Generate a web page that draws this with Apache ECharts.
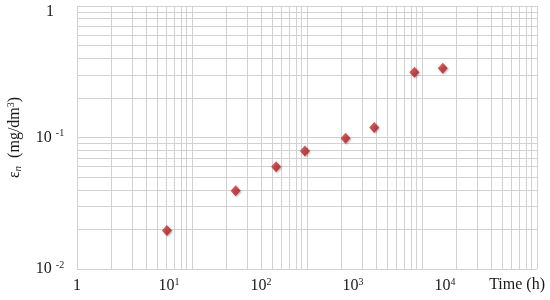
<!DOCTYPE html>
<html><head><meta charset="utf-8">
<script src="https://cdn.jsdelivr.net/npm/echarts@6/dist/echarts.min.js"></script>
<style>html,body{margin:0;padding:0;background:#fff}#c{width:550px;height:300px}</style>
</head><body><div id="c"></div>
<script>
// data
const timeHours = [9.5, 53, 146, 300, 830, 1700, 4650, 9450];
const epsilonN = [0.0196, 0.0394, 0.060, 0.079, 0.0986, 0.119, 0.313, 0.336];
const xTickValues = [1, 10, 100, 1000, 10000];
const yTickValues = [0.01, 0.1, 1];
const minorMultipliers = [2, 3, 4, 5, 6, 7, 8, 9];
const xGridDecades = [1, 10, 100, 1000];
const yGridDecades = [0.01, 0.1];

const FONT = 'Liberation Serif';
const GRID_COLOR = '#d2d2d2';
const TEXT_COLOR = '#1a1a1a';

const points = timeHours.map((t, i) => [t, epsilonN[i]]);
const minorLines = [];
xGridDecades.forEach(d => minorMultipliers.forEach(m => minorLines.push({ xAxis: d * m })));
yGridDecades.forEach(d => minorMultipliers.forEach(m => minorLines.push({ yAxis: +(d * m).toPrecision(3) })));

function expLabel(v) {
  const e = Math.round(Math.log10(v));
  if (e === 0) return '{a|1}';
  return '{a|10}{s|' + e + '}';
}
function yLabel(v) {
  const e = Math.round(Math.log10(v));
  if (e === 0) return '{one|1}';
  return '{a|10 }{s|' + e + '}';
}

const chart = echarts.init(document.getElementById('c'), null, { renderer: 'canvas' });
chart.setOption({
  animation: false,
  backgroundColor: '#fff',
  grid: { left: 77, right: 13, top: 6, bottom: 31, containLabel: false, outerBoundsMode: 'none' },
  xAxis: [
    {
      type: 'log', logBase: 10, min: 1, max: 10000, position: 'bottom',
      axisLine: { show: false }, axisTick: { show: false }, axisLabel: { show: false },
      splitLine: { show: true, lineStyle: { color: GRID_COLOR, width: 1 } }
    },
    {
      type: 'log', logBase: 10, min: 1, max: 100000, position: 'bottom',
      axisLine: { show: false }, axisTick: { show: false },
      splitLine: { show: false },
      axisLabel: {
        margin: 8, color: TEXT_COLOR, fontFamily: FONT,
        formatter: v => (v >= 100000 ? '' : expLabel(v)),
        rich: {
          a: { fontFamily: FONT, fontSize: 16, color: TEXT_COLOR, lineHeight: 18 },
          s: { fontFamily: FONT, fontSize: 10, color: TEXT_COLOR, lineHeight: 10, verticalAlign: 'top' },
          one: { fontFamily: FONT, fontSize: 16, color: TEXT_COLOR }
        }
      },
      name: 'Time (h)', nameLocation: 'end', nameGap: 8,
      nameTextStyle: { fontFamily: FONT, fontSize: 16, color: TEXT_COLOR, align: 'right', verticalAlign: 'top', padding: [8, 0, 0, 0] }
    }
  ],
  yAxis: {
    type: 'log', logBase: 10, min: 0.01, max: 1,
    axisLine: { show: false }, axisTick: { show: false },
    splitLine: { show: true, lineStyle: { color: GRID_COLOR, width: 1 } },
    axisLabel: {
      margin: 27, align: 'center', color: TEXT_COLOR, fontFamily: FONT,
      formatter: yLabel,
      rich: {
        a: { fontFamily: FONT, fontSize: 16, color: TEXT_COLOR, lineHeight: 18 },
        s: { fontFamily: FONT, fontSize: 10, color: TEXT_COLOR, lineHeight: 10, verticalAlign: 'top' },
        one: { fontFamily: FONT, fontSize: 16, color: TEXT_COLOR, padding: [12, 0, 0, 0] }
      }
    },
    name: '{e|ε}{n|n}{t|  (mg/dm}{s|3}{t|)}',
    nameLocation: 'middle', nameRotate: 90, nameGap: 53,
    nameTextStyle: {
      rich: {
        e: { fontFamily: FONT, fontSize: 16, color: TEXT_COLOR, lineHeight: 18 },
        n: { fontFamily: FONT, fontSize: 11, fontStyle: 'italic', color: TEXT_COLOR, lineHeight: 8, verticalAlign: 'bottom' },
        t: { fontFamily: FONT, fontSize: 16, color: TEXT_COLOR, lineHeight: 18 },
        s: { fontFamily: FONT, fontSize: 10, color: TEXT_COLOR, lineHeight: 9, verticalAlign: 'top' }
      }
    }
  },
  series: [
    {
      type: 'scatter', xAxisIndex: 0, yAxisIndex: 0, z: 1, silent: true,
      symbolSize: 0, data: [[1, 0.01]],
      markLine: {
        silent: true, symbol: ['none', 'none'], animation: false,
        label: { show: false },
        lineStyle: { color: GRID_COLOR, width: 1, type: 'solid' },
        emphasis: { disabled: true },
        data: minorLines
      }
    },
    {
      type: 'scatter', xAxisIndex: 1, yAxisIndex: 0, z: 5,
      symbol: 'diamond', symbolSize: [10, 11],
      itemStyle: {
        color: { type: 'linear', x: 0, y: 0, x2: 1, y2: 1,
          colorStops: [{ offset: 0, color: '#e0403e' }, { offset: 1, color: '#a31217' }] },
        shadowBlur: 2, shadowColor: 'rgba(0,0,0,0.35)', shadowOffsetX: 1, shadowOffsetY: 1
      },
      data: points
    }
  ]
});
</script></body></html>
